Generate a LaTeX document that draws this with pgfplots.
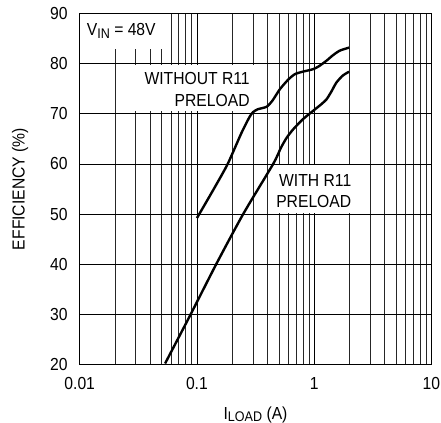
\documentclass[border=0pt]{standalone}
\usepackage{fontspec}
\setmainfont{Liberation Sans}[FakeStretch=0.9]
\usepackage{pgfplots}
\pgfplotsset{compat=1.18}
\newcommand{\lab}{\fontsize{17.5}{17.5}\selectfont}
\newcommand{\sub}[1]{\raisebox{-2.5bp}{\fontsize{14}{14}\selectfont #1}}
\begin{document}
\begin{tikzpicture}
\begin{axis}[
  scale only axis,
  width=351.7bp, height=351bp,
  xmode=log,
  xmin=0.01, xmax=10, ymin=20, ymax=90,
  xtick={0.01,0.1,1,10},
  xticklabels={0.01,0.1,1,10},
  minor xtick={0.02,0.03,0.04,0.05,0.06,0.07,0.08,0.09,0.2,0.3,0.4,0.5,0.6,0.7,0.8,0.9,2,3,4,5,6,7,8,9},
  ytick={20,30,40,50,60,70,80,90},
  grid=both,
  major grid style={black, line width=0.7bp},
  minor grid style={black!85, line width=0.55bp},
  major tick length=0pt, minor tick length=0pt,
  axis line style={black, line width=1.2bp},
  /pgf/number format/assume math mode=true,
  ticklabel style={font=\lab},
  yticklabel style={anchor=east, inner sep=0pt, xshift=-12bp},
  xticklabel style={anchor=north, inner sep=0pt, yshift=-12.5bp},
  xlabel={I\sub{LOAD} (A)},
  xlabel style={font=\lab, at={([yshift=-54.5bp]axis description cs:0.5,0)}, anchor=base, inner sep=0pt},
  ylabel={EFFICIENCY (\%)},
  ylabel style={font=\lab, at={([xshift=-55bp]axis description cs:0,0.5)}, anchor=base, inner sep=0pt, rotate=0},
  clip=false,
]
% label boxes
\fill[white] (axis cs:0.0101,82.9) rectangle (axis cs:0.0533,89.9);
\fill[white] (axis cs:0.0243,70.6) rectangle (axis cs:0.331,79.7);
\fill[white] (axis cs:0.419,50.3) rectangle (axis cs:2.55,59.7);

\addplot[black, line width=2.4bp, smooth, tension=0.4] coordinates {
(0.1,49.2) (0.14,55.1) (0.183,60) (0.24,66.2) (0.28,69.3) (0.3,70.3) (0.33,70.9)
(0.393,71.4) (0.44,72.6) (0.51,74.9) (0.6,76.8) (0.684,77.9) (0.8,78.4)
(0.981,78.9) (1.1,79.5) (1.276,80.6) (1.45,81.7) (1.656,82.6) (1.987,83.2)
};
\addplot[black, line width=2.4bp, smooth, tension=0.4] coordinates {
(0.0535,20.2) (0.0884,30) (0.146,40) (0.248,50) (0.447,60) (0.52,63.2)
(0.582,65.2) (0.662,66.9) (0.8,68.9) (0.981,70.6) (1.15,71.9) (1.276,72.9)
(1.4,74.4) (1.545,76.2) (1.75,77.6) (1.987,78.4)
};

\node[font=\lab, anchor=base west, inner sep=0pt] at (axis cs:0.01147,85.56) {V\sub{IN} = 48V};
\node[font=\lab, anchor=base east, inner sep=0pt] at (axis cs:0.283,75.9) {WITHOUT R11};
\node[font=\lab, anchor=base east, inner sep=0pt] at (axis cs:0.283,71.44) {PRELOAD};
\node[font=\lab, anchor=base east, inner sep=0pt] at (axis cs:2.08,55.44) {WITH R11};
\node[font=\lab, anchor=base east, inner sep=0pt] at (axis cs:2.08,51.24) {PRELOAD};
\end{axis}
\pgfresetboundingbox
\path[use as bounding box] (-79.7bp,-58.5bp) rectangle (361.3bp,364.5bp);
\end{tikzpicture}
\end{document}
